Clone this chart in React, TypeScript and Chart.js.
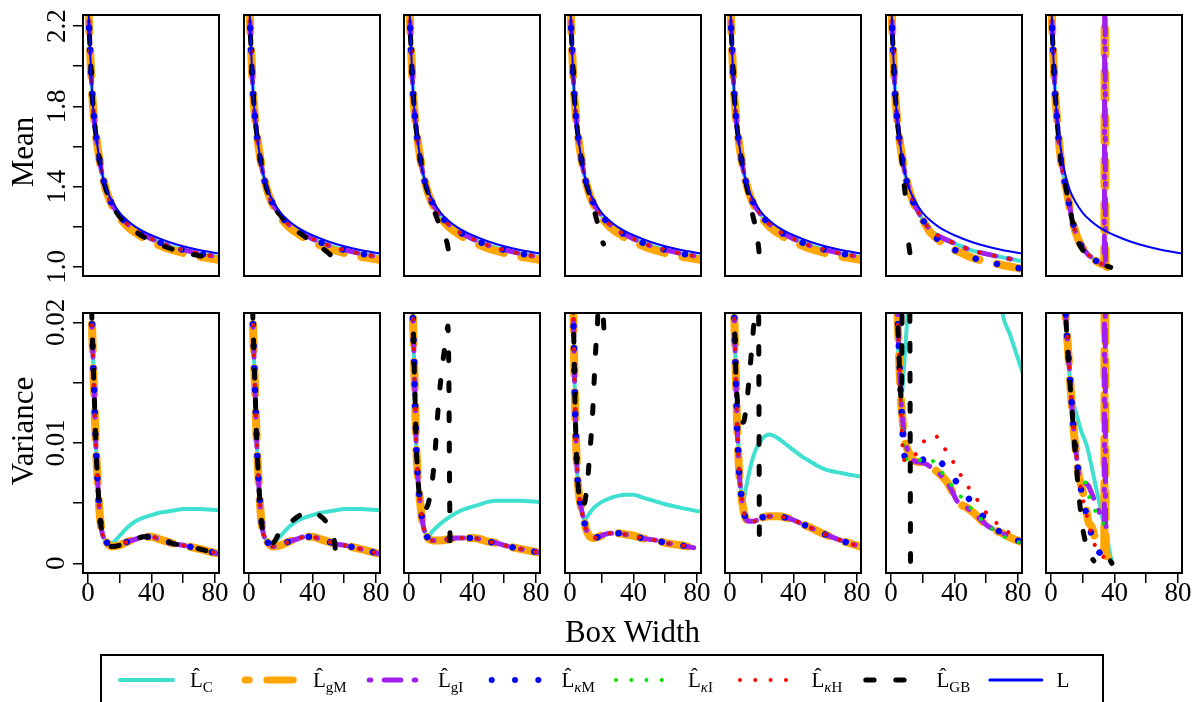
import React, { useEffect, useRef } from "react";
import { Chart, registerables } from "chart.js";

Chart.register(...registerables);

const SERIF = '"Liberation Serif", "Times New Roman", serif';
Chart.defaults.font.family = SERIF;

// ---------------- Axis ticks ----------------
const xTicks = [0, 20, 40, 60, 80];
const xTickLabels = [0, 40, 80];
const meanTicks = [1.0, 1.2, 1.4, 1.6, 1.8, 2.0, 2.2];
const meanTickLabels = [1.0, 1.4, 1.8, 2.2];
const varTicks = [0, 0.005, 0.01, 0.015, 0.02];
const varTickLabels = [0, 0.01, 0.02];

// ---------------- Mean of the estimates (top row) ----------------
const meanX = [0.3, 0.7, 1.5, 2.5, 3.5, 4.5, 6, 8, 10, 12, 15, 20, 25, 30, 35, 40, 50, 60, 70, 82];
const meanL = [2.30, 2.20, 2.05, 1.88, 1.77, 1.69, 1.60, 1.50, 1.43, 1.38, 1.33, 1.27, 1.23, 1.20, 1.177, 1.158, 1.127, 1.103, 1.085, 1.068];
const meanEst = [2.30, 2.20, 2.05, 1.88, 1.77, 1.69, 1.60, 1.50, 1.425, 1.37, 1.315, 1.255, 1.213, 1.183, 1.16, 1.14, 1.108, 1.085, 1.067, 1.05];
const meanGM = [2.30, 2.20, 2.05, 1.88, 1.77, 1.69, 1.60, 1.50, 1.425, 1.368, 1.31, 1.245, 1.20, 1.17, 1.145, 1.125, 1.092, 1.07, 1.052, 1.036];
const meanGB1 = [2.30, 2.20, 2.05, 1.88, 1.77, 1.69, 1.60, 1.50, 1.425, 1.37, 1.31, 1.25, 1.205, 1.175, 1.15, 1.13, 1.097, 1.074, 1.056, 1.04];

const gb2X = [0.3, 0.7, 1.5, 2.5, 3.5, 4.5, 6, 8, 10, 12, 15, 20, 25, 30, 35, 40, 45, 50, 54.5];
const meanGB2 = [2.30, 2.20, 2.05, 1.88, 1.77, 1.69, 1.60, 1.50, 1.425, 1.37, 1.31, 1.255, 1.21, 1.18, 1.152, 1.126, 1.10, 1.07, 1.035];

const gb3X = [0.3, 0.7, 1.5, 2.5, 3.5, 4.5, 6, 8, 10, 12, 15, 18, 21, 24, 25.5];
const meanGB3 = [2.30, 2.20, 2.05, 1.88, 1.77, 1.69, 1.60, 1.50, 1.425, 1.37, 1.30, 1.235, 1.175, 1.12, 1.05];

const gb4X = [0.3, 0.7, 1.5, 2.5, 3.5, 4.5, 6, 8, 10, 12, 14, 16, 18, 19.5, 20.8, 21.1];
const meanGB4 = [2.30, 2.20, 2.05, 1.88, 1.77, 1.69, 1.60, 1.50, 1.425, 1.37, 1.32, 1.26, 1.20, null, 1.12, 1.115];

const gb5X = [0.3, 0.7, 1.5, 2.5, 3.5, 4.5, 6, 8, 10, 12, 14, 16, 18, 18.6];
const meanGB5 = [2.30, 2.20, 2.05, 1.88, 1.77, 1.69, 1.60, 1.50, 1.42, 1.35, 1.27, 1.20, 1.10, 1.05];

const meanC6 = [2.30, 2.20, 2.05, 1.88, 1.77, 1.69, 1.60, 1.50, 1.425, 1.375, 1.31, 1.235, 1.183, 1.155, 1.135, 1.118, 1.085, 1.065, 1.048, 1.03];
const meanGM6 = [2.30, 2.20, 2.05, 1.88, 1.77, 1.69, 1.60, 1.50, 1.425, 1.37, 1.305, 1.235, 1.17, 1.135, 1.10, 1.085, 1.05, 1.027, 1.01, 0.992];
const gb6X = [0.3, 0.7, 1.5, 2.5, 3.5, 4.5, 6, 7, 8, 9, 10, 11.2, 12.3];
const meanGB6 = [2.30, 2.20, 2.05, 1.88, 1.77, 1.69, 1.60, 1.52, 1.43, 1.36, null, 1.11, 1.05];

const e7X = [0.3, 0.7, 1.5, 2.5, 3.5, 4.5, 6, 8, 10, 12, 14, 17, 20, 23, 26, 29, 32, 35, 37.7];
const meanE7 = [2.30, 2.20, 2.05, 1.88, 1.77, 1.67, 1.55, 1.45, 1.375, 1.29, 1.215, 1.14, 1.095, 1.065, 1.045, 1.027, 1.015, 1.005, 0.998];
const gm7X = [0.3, 0.7, 1.5, 2.5, 3.5, 4.5, 6, 8, 10, 12, 14, 17, 20, 23, 26, 29, 32, 33.6, 34.0, 34.4, 35.3];
const meanGM7 = [2.30, 2.20, 2.05, 1.88, 1.77, 1.67, 1.55, 1.45, 1.375, 1.29, 1.215, 1.14, 1.095, 1.065, 1.045, 1.027, 1.015, 1.012, 3.0, 1.012, 1.0];
const gb7X = [0.3, 0.7, 1.5, 2.5, 3.5, 4.5, 6, 8, 10, 12, 15, 17.4, 20, 22.7, 28, 35.3, 37.7];
const meanGB7 = [2.30, 2.20, 2.05, 1.88, 1.77, 1.67, 1.55, 1.45, 1.37, 1.285, 1.175, 1.12, 1.085, 1.06, null, 1.004, 0.998];

// ---------------- Variance of the estimates (bottom row) ----------------
const varX = [2, 2.5, 3, 3.5, 4, 4.5, 5, 5.5, 6, 7, 8, 9, 10, 12, 15, 20, 25, 30, 35, 40, 45, 50, 55, 60, 70, 82];
const varEst1 = [0.0235, 0.0200, 0.0178, 0.0157, 0.0138, 0.0115, 0.0097, 0.0083, 0.0070, 0.0048, 0.0033, 0.0025, 0.0021, 0.0017, 0.0014, 0.0015, 0.0018, 0.0020, 0.0022, 0.0022, 0.0020, 0.0018, 0.0016, 0.0015, 0.0012, 0.0008];
const varC1 = [0.0235, 0.0200, 0.0178, 0.0157, 0.0138, 0.0115, 0.0097, 0.0083, 0.0070, 0.0048, 0.0033, 0.0025, 0.0021, 0.0017, 0.0017, 0.0023, 0.0030, 0.0035, 0.0038, 0.0040, 0.0042, 0.0043, 0.0044, 0.0045, 0.0045, 0.0044];

const gbV2X = [2, 2.5, 3, 3.5, 4, 4.5, 5, 5.5, 6, 7, 8, 9, 10, 12, 15, 19, 23, 27, 31, 35, 39, 43, 47, 50, 52.5, 54, 55];
const varGB2 = [0.0235, 0.0200, 0.0178, 0.0157, 0.0138, 0.0115, 0.0097, 0.0083, 0.0070, 0.0048, 0.0033, 0.0025, 0.0021, 0.0017, 0.0017, 0.0025, 0.0031, 0.0035, 0.0039, 0.0042, 0.0043, 0.0041, 0.0037, 0.0032, 0.0027, 0.0017, 0.0004];

const varEst3 = [0.0240, 0.0205, 0.0180, 0.0152, 0.0127, 0.0100, 0.0085, 0.0073, 0.0064, 0.0051, 0.0039, 0.0031, 0.0026, 0.0021, 0.0019, 0.0019, 0.0020, 0.0021, 0.0021, 0.0021, 0.0020, 0.0018, 0.0017, 0.0015, 0.0012, 0.0009];
const varC3 = [0.0240, 0.0205, 0.0180, 0.0152, 0.0127, 0.0100, 0.0085, 0.0073, 0.0064, 0.0051, 0.0039, 0.0031, 0.0026, 0.0022, 0.0027, 0.0033, 0.0038, 0.0042, 0.0045, 0.0047, 0.0049, 0.0051, 0.0052, 0.0052, 0.0052, 0.0051];
const gbV3X = [2, 2.5, 3, 3.5, 4, 4.5, 5, 5.5, 6, 7, 8.5, 10, 12, 14, 16, 18, 20, 22, 23.5, 24.5, 25.1, 25.5, 25.9];
const varGB3 = [0.0240, 0.0205, 0.0180, 0.0152, 0.0127, 0.0100, 0.0085, 0.0073, 0.0064, 0.0051, 0.0046, 0.0045, 0.0049, 0.0062, 0.0085, 0.0122, 0.0152, 0.0174, 0.0187, 0.0197, 0.0160, 0.0080, 0.0011];

const v4X = [2, 2.5, 3, 3.5, 4, 4.5, 5, 5.5, 6, 7, 8, 9, 10, 12, 15, 20, 25, 30, 35, 40, 45, 50, 55, 60, 70, 78];
const varEst4 = [0.0215, 0.0180, 0.0145, 0.0115, 0.0094, 0.0076, 0.0066, 0.0059, 0.0054, 0.0046, 0.0040, 0.0035, 0.0029, 0.0023, 0.0021, 0.0023, 0.0025, 0.0025, 0.0024, 0.0023, 0.0021, 0.0020, 0.0019, 0.0017, 0.0015, 0.0013];
const varC4 = [0.0215, 0.0180, 0.0145, 0.0115, 0.0094, 0.0076, 0.0066, 0.0059, 0.0054, 0.0046, 0.0040, 0.0036, 0.0037, 0.0041, 0.0046, 0.0051, 0.0054, 0.0056, 0.0057, 0.0057, 0.0055, 0.0053, 0.0051, 0.0049, 0.0046, 0.0043];
const gbV4X = [2, 2.5, 3, 3.5, 4, 4.5, 5, 5.5, 6, 7, 8, 9.5, 11, 12.5, 14, 15, 16, 17, 17.4, 19, 21.2, 21.6];
const varGB4 = [0.0215, 0.0180, 0.0145, 0.0115, 0.0094, 0.0076, 0.0066, 0.0059, 0.0054, 0.0048, 0.0046, 0.0052, 0.0067, 0.0092, 0.0118, 0.0145, 0.0172, 0.0194, 0.0200, 0.0300, 0.0199, 0.0187];

const varEst5 = [0.0240, 0.0215, 0.0190, 0.0163, 0.0140, 0.0115, 0.0097, 0.0083, 0.0071, 0.0058, 0.0048, 0.0041, 0.0037, 0.0035, 0.0035, 0.0038, 0.0039, 0.0039, 0.0038, 0.0036, 0.0033, 0.0030, 0.0027, 0.0024, 0.0019, 0.0014];
const varC5 = [0.0240, 0.0215, 0.0190, 0.0165, 0.0145, 0.0125, 0.0108, 0.0093, 0.0080, 0.0060, 0.0051, 0.0055, 0.0062, 0.0075, 0.0090, 0.0103, 0.0107, 0.0104, 0.0099, 0.0094, 0.0089, 0.0085, 0.0081, 0.0078, 0.0075, 0.0072];
const gbV5X = [2, 2.5, 3, 3.5, 4, 4.5, 5, 6, 7, 8, 9, 10.5, 12, 13.5, 15, 16, 17, 18, 18.3, 18.5];
const varGB5 = [0.0240, 0.0215, 0.0190, 0.0165, 0.0148, 0.0138, 0.0130, 0.0122, 0.0118, 0.0117, 0.0119, 0.0133, 0.0152, 0.0175, 0.0198, 0.0215, 0.0260, 0.0220, 0.0120, 0.0021];

const v6X = [3, 3.5, 4.2, 5, 5.8, 7, 8.4, 9.5, 12, 14.7, 18, 21, 25, 30, 35, 37.7, 42, 45, 48, 52, 56, 60, 65, 70, 76, 82];
const varEst6 = [0.0245, 0.0225, 0.0203, 0.0175, 0.0147, 0.0124, 0.0105, 0.0098, 0.0090, 0.0085, 0.0084, 0.0083, 0.0080, 0.0075, 0.0068, 0.0062, 0.0051, 0.0048, 0.0046, 0.0042, 0.0037, 0.0032, 0.0028, 0.0025, 0.0021, 0.0018];
const kM6X = [3.5, 4.2, 5, 6, 7, 8, 10, 12, 15.7, 20, 27, 32, 36.7, 41, 45.5, 50, 54, 59, 64, 70, 75.6, 82];
const varKM6 = [0.0235, 0.0205, 0.0178, 0.0145, 0.0118, 0.0093, 0.0086, 0.0084, 0.0084, 0.0086, 0.0088, 0.0083, 0.0075, 0.0068, 0.0060, 0.0052, 0.0045, 0.0038, 0.0031, 0.0025, 0.0021, 0.0018];
const kH6X = [3.5, 4.2, 5, 6, 7.3, 8.8, 11, 14.7, 19.9, 24, 27.9, 31, 34, 39.3, 44.1, 48.9, 54.2, 59.4, 66.1, 73.9, 81.5];
const varKH6 = [0.0235, 0.0205, 0.0178, 0.0140, 0.0097, 0.0085, 0.0085, 0.0089, 0.0100, 0.0104, 0.0106, 0.0101, 0.0095, 0.0084, 0.0073, 0.0063, 0.0053, 0.0043, 0.0034, 0.0026, 0.0020];
const kI6X = [3.5, 4.2, 5, 6, 7, 8, 10, 12, 15, 19, 23.8, 27, 30.1, 35.8, 41.7, 47.6, 54.3, 61, 68.5, 76.9, 82];
const varKI6 = [0.0235, 0.0205, 0.0178, 0.0145, 0.0118, 0.0093, 0.0086, 0.0084, 0.0084, 0.0086, 0.0088, 0.0084, 0.0079, 0.0069, 0.0059, 0.0050, 0.0040, 0.0032, 0.0024, 0.0019, 0.0017];
const c6X = [2.5, 3.1, 4.5, 5.5, 6.5, 7.5, 9, 10.5, 13, 20, 40, 60, 66, 70.3, 75, 83];
const varC6 = [0.0220, 0.0208, 0.0178, 0.0155, 0.0136, 0.0150, 0.0178, 0.0208, 0.0260, 0.0400, 0.0500, 0.0340, 0.0260, 0.0208, 0.0190, 0.0158];
const gbV6X = [3, 3.5, 4.2, 5, 5.8, 6.6, 7.4, 11.6, 11.9, 12.3];
const varGB6 = [0.0245, 0.0225, 0.0203, 0.0175, 0.0147, 0.0135, 0.0300, 0.0300, 0.0200, 0.0001];

const v7X = [8.5, 9.4, 10.5, 11.5, 12.5, 13.5, 14.5, 16, 17.5, 20, 23.3, 26.8, 30, 34.8];
const varEst7 = [0.0225, 0.0203, 0.0182, 0.0163, 0.0143, 0.0125, 0.0108, 0.0090, 0.0073, 0.0054, 0.0036, 0.0018, 0.0010, 0.0003];
const kI7X = [8.5, 9.4, 10.5, 11.5, 12.5, 13.5, 14.5, 16, 17.5, 20.5, 23, 25.8, 30, 33, 36.3];
const varKI7 = [0.0225, 0.0203, 0.0182, 0.0163, 0.0143, 0.0125, 0.0108, 0.0090, 0.0073, 0.0072, 0.0060, 0.0049, 0.0039, 0.0033, 0.0029];
const gM7X = [8.5, 9.4, 10.5, 11.5, 12.5, 13.5, 14.5, 16, 17.5, 19, 21.6, 23.5, 25.8, 27.9, 30, 32, 33.6, 34.0, 34.4, 35.3];
const varGM7 = [0.0225, 0.0203, 0.0182, 0.0163, 0.0143, 0.0125, 0.0108, 0.0090, 0.0073, 0.0065, 0.0050, 0.0035, 0.0030, 0.0021, 0.0017, 0.0013, 0.0010, 0.0600, 0.0030, 0.0006];
const gI7X = [8.5, 9.4, 10.5, 11.5, 12.5, 13.5, 14.5, 16, 17.5, 20, 23.7, 26, 29, 32, 33.6, 34.0, 34.4, 35];
const varGI7 = [0.0225, 0.0203, 0.0182, 0.0163, 0.0143, 0.0125, 0.0108, 0.0090, 0.0073, 0.0068, 0.0064, 0.0057, 0.0047, 0.0038, 0.0034, 0.0600, 0.0034, 0.0030];
const c7X = [8.5, 9, 10.5, 12.2, 14, 16.4, 19, 22.7, 25, 27.9, 30.5, 33.1, 36, 38.4];
const varC7 = [0.0225, 0.0208, 0.0178, 0.0149, 0.0134, 0.0122, 0.0110, 0.0097, 0.0084, 0.0066, 0.0050, 0.0033, 0.0016, 0.0001];
const gbV7X = [8.5, 9.5, 10.5, 11.5, 12.5, 13.5, 14.5, 15.5, 17, 18.5, 19.5, 21, 23, 25, 27, 32, 37.5, 38.4];
const varGB7 = [0.0225, 0.0200, 0.0178, 0.0158, 0.0140, 0.0122, 0.0104, 0.0088, 0.0065, 0.0045, 0.0033, 0.0022, 0.0012, 0.0006, 0.0002, null, 0.0002, 0.0000];

// ---------------- Series styling ----------------
type Key = "C" | "gM" | "gI" | "kM" | "kI" | "kH" | "GB" | "L";
type Curve = [number[], (number | null)[]];

const STYLES: Record<Key, { color: string; width: number; dash: number[] }> = {
  C: { color: "#40E0D0", width: 4, dash: [] },
  gM: { color: "#FFA500", width: 8, dash: [26, 18] },
  gI: { color: "#A020F0", width: 5, dash: [2, 13, 17, 13] },
  kM: { color: "#0000FF", width: 6.5, dash: [0.01, 22] },
  kI: { color: "#00E600", width: 4, dash: [0.01, 15] },
  kH: { color: "#FF0000", width: 4, dash: [0.01, 15] },
  GB: { color: "#000000", width: 5, dash: [8, 22] },
  L: { color: "#0000FF", width: 2, dash: [] },
};

// first entry is painted last (on top)
const DRAW_ORDER: Key[] = ["L", "GB", "kH", "kI", "kM", "gI", "gM", "C"];

function meanSet(c: Curve, gm: Curve, gi: Curve, km: Curve, ki: Curve, kh: Curve, gb: Curve): Record<Key, Curve> {
  return { L: [meanX, meanL], C: c, gM: gm, gI: gi, kM: km, kI: ki, kH: kh, GB: gb };
}

const meanPanels: Record<string, Curve>[] = [
  meanSet([meanX, meanEst], [meanX, meanGM], [meanX, meanEst], [meanX, meanEst], [meanX, meanEst], [meanX, meanEst], [meanX, meanGB1]),
  meanSet([meanX, meanEst], [meanX, meanGM], [meanX, meanEst], [meanX, meanEst], [meanX, meanEst], [meanX, meanEst], [gb2X, meanGB2]),
  meanSet([meanX, meanEst], [meanX, meanGM], [meanX, meanEst], [meanX, meanEst], [meanX, meanEst], [meanX, meanEst], [gb3X, meanGB3]),
  meanSet([meanX, meanEst], [meanX, meanGM], [meanX, meanEst], [meanX, meanEst], [meanX, meanEst], [meanX, meanEst], [gb4X, meanGB4]),
  meanSet([meanX, meanEst], [meanX, meanGM], [meanX, meanEst], [meanX, meanEst], [meanX, meanEst], [meanX, meanEst], [gb5X, meanGB5]),
  meanSet([meanX, meanC6], [meanX, meanGM6], [meanX, meanC6], [meanX, meanGM6], [meanX, meanC6], [meanX, meanC6], [gb6X, meanGB6]),
  meanSet([e7X, meanE7], [gm7X, meanGM7], [gm7X, meanGM7], [e7X, meanE7], [e7X, meanE7], [e7X, meanE7], [gb7X, meanGB7]),
];

const varPanels: Record<string, Curve>[] = [
  { C: [varX, varC1], gM: [varX, varEst1], gI: [varX, varEst1], kM: [varX, varEst1], kI: [varX, varEst1], kH: [varX, varEst1], GB: [varX, varEst1] },
  { C: [varX, varC1], gM: [varX, varEst1], gI: [varX, varEst1], kM: [varX, varEst1], kI: [varX, varEst1], kH: [varX, varEst1], GB: [gbV2X, varGB2] },
  { C: [varX, varC3], gM: [varX, varEst3], gI: [varX, varEst3], kM: [varX, varEst3], kI: [varX, varEst3], kH: [varX, varEst3], GB: [gbV3X, varGB3] },
  { C: [varX, varC4], gM: [v4X, varEst4], gI: [v4X, varEst4], kM: [v4X, varEst4], kI: [v4X, varEst4], kH: [v4X, varEst4], GB: [gbV4X, varGB4] },
  { C: [varX, varC5], gM: [varX, varEst5], gI: [varX, varEst5], kM: [varX, varEst5], kI: [varX, varEst5], kH: [varX, varEst5], GB: [gbV5X, varGB5] },
  { C: [c6X, varC6], gM: [v6X, varEst6], gI: [v6X, varEst6], kM: [kM6X, varKM6], kI: [kI6X, varKI6], kH: [kH6X, varKH6], GB: [gbV6X, varGB6] },
  { C: [c7X, varC7], gM: [gM7X, varGM7], gI: [gI7X, varGI7], kM: [v7X, varEst7], kI: [kI7X, varKI7], kH: [v7X, varEst7], GB: [gbV7X, varGB7] },
];

// ---------------- Panel geometry ----------------
const BOX_LEFT = [83, 244, 404, 565, 725, 886, 1046];
const BOX_W = 136;
const ROWS = [
  { top: 15, h: 261, min: 0.955, max: 2.255, ticks: meanTicks, labels: meanTickLabels, labelPad: -1.4 },
  { top: 313, h: 260, min: -0.0008, max: 0.02077, ticks: varTicks, labels: varTickLabels, labelPad: -8 },
];
const X_MIN = -3.15;
const X_MAX = 82.6;

const panelBox = {
  id: "panelBox",
  afterDatasetsDraw(chart: any) {
    const { ctx, chartArea } = chart;
    ctx.save();
    ctx.strokeStyle = "#000";
    ctx.lineWidth = 2;
    ctx.strokeRect(chartArea.left, chartArea.top, chartArea.right - chartArea.left, chartArea.bottom - chartArea.top);
    ctx.restore();
  },
};

const has = (list: number[], v: number) => list.some((t) => Math.abs(t - v) < 1e-9);

function Panel({ row, col }: { row: number; col: number }) {
  const ref = useRef<HTMLCanvasElement>(null);
  const isBottom = row === 1;
  const isFirst = col === 0;
  const r = ROWS[row];
  const padL = isFirst ? 3 : 20;
  const padR = 20;
  const padT = 22;
  const padB = 22;
  const yW = isFirst ? 80 : 0;
  const xH = isBottom ? 50 : 0;
  const left = BOX_LEFT[col] - padL - yW;
  const top = r.top - padT;
  const width = padL + yW + BOX_W + padR;
  const height = padT + r.h + xH + padB;

  useEffect(() => {
    const curves = isBottom ? varPanels[col] : meanPanels[col];
    const datasets = DRAW_ORDER.filter((k) => curves[k]).map((k) => {
      const [xs, ys] = curves[k];
      const s = STYLES[k];
      return {
        label: k,
        data: xs.map((x, i) => ({ x, y: ys[i] })),
        borderColor: s.color,
        borderWidth: s.width,
        borderDash: s.dash,
        borderCapStyle: "round",
        borderJoinStyle: "round",
        pointRadius: 0,
        pointHoverRadius: 0,
        fill: false,
        cubicInterpolationMode: "monotone",
        capBezierPoints: false,
        spanGaps: false,
        clip: 0,
      };
    });
    const tickFont = { family: SERIF, size: 27 };
    const chart = new Chart(ref.current as HTMLCanvasElement, {
      type: "line",
      data: { datasets } as any,
      options: {
        animation: false,
        responsive: false,
        maintainAspectRatio: false,
        devicePixelRatio: 1,
        events: [],
        layout: { padding: { left: padL, right: padR, top: padT, bottom: padB } },
        plugins: { legend: { display: false }, tooltip: { enabled: false } },
        scales: {
          x: {
            type: "linear",
            min: X_MIN,
            max: X_MAX,
            display: isBottom,
            afterBuildTicks: (s: any) => {
              s.ticks = xTicks.map((v) => ({ value: v }));
            },
            afterFit: (s: any) => {
              s.height = isBottom ? xH : 0;
            },
            border: { display: false },
            grid: { drawOnChartArea: false, drawTicks: true, tickLength: 10, color: "#000", lineWidth: 1.5 },
            ticks: {
              autoSkip: false,
              minRotation: 0,
              maxRotation: 0,
              padding: -5,
              color: "#000",
              font: tickFont,
              callback: (v: any) => (has(xTickLabels, Number(v)) ? String(v) : ""),
            },
          },
          y: {
            type: "linear",
            position: "left",
            min: r.min,
            max: r.max,
            display: isFirst,
            afterBuildTicks: (s: any) => {
              s.ticks = r.ticks.map((v) => ({ value: v }));
            },
            afterFit: (s: any) => {
              s.width = isFirst ? yW : 0;
            },
            border: { display: false },
            grid: { drawOnChartArea: false, drawTicks: true, tickLength: 10, color: "#000", lineWidth: 1.5 },
            ticks: {
              autoSkip: false,
              minRotation: 90,
              maxRotation: 90,
              crossAlign: "center",
              padding: r.labelPad,
              color: "#000",
              font: tickFont,
              callback: (v: any) => {
                const n = Number(v);
                if (!has(r.labels, n)) return "";
                if (isBottom) return n === 0 ? "0" : n.toFixed(2);
                return n.toFixed(1);
              },
            },
          },
        },
      } as any,
      plugins: [panelBox],
    });
    return () => chart.destroy();
  }, [row, col]);

  return (
    <canvas
      ref={ref}
      width={width}
      height={height}
      style={{ position: "absolute", left, top, width, height }}
    />
  );
}

// ---------------- Legend ----------------
const legendEntries: { key: Key; sub: React.ReactNode; x1: number; x2: number; w: number; dash?: string; offset?: number; textX: number }[] = [
  { key: "C", sub: "C", x1: 120, x2: 173, w: 4, textX: 190 },
  { key: "gM", sub: "gM", x1: 245.2, x2: 293.2, w: 7, dash: "26.4 17.6", offset: 22.4, textX: 313 },
  { key: "gI", sub: "gI", x1: 369.2, x2: 415.9, w: 5, dash: "1.6 13.4 16.6 13.4", textX: 438 },
  { key: "kM", sub: <><i>κ</i>M</>, x1: 491.7, x2: 538.5, w: 6, dash: "0.01 23.3", textX: 561.5 },
  { key: "kI", sub: <><i>κ</i>I</>, x1: 616, x2: 661.9, w: 4, dash: "0.01 15.2", textX: 688 },
  { key: "kH", sub: <><i>κ</i>H</>, x1: 740, x2: 786.2, w: 4, dash: "0.01 15.3", textX: 811.5 },
  { key: "GB", sub: "GB", x1: 865.8, x2: 904.4, w: 5, dash: "8.3 21.7", textX: 936.5 },
  { key: "L", sub: null, x1: 989.8, x2: 1041.8, w: 3, textX: 1056.5 },
];

export default function App() {
  const panels: { row: number; col: number }[] = [];
  for (let row = 0; row < 2; row++) for (let col = 0; col < 7; col++) panels.push({ row, col });

  const rotated = (text: string, cx: number, cy: number) => (
    <div
      style={{
        position: "absolute",
        left: cx,
        top: cy,
        transform: "translate(-50%, -50%) rotate(-90deg)",
        fontSize: 31,
        lineHeight: 1,
        whiteSpace: "nowrap",
      }}
    >
      {text}
    </div>
  );

  return (
    <div
      style={{
        position: "absolute",
        left: 0,
        top: 0,
        width: 1199,
        height: 702,
        overflow: "hidden",
        background: "#fff",
        fontFamily: SERIF,
        color: "#000",
      }}
    >
      {panels.map((p) => (
        <Panel key={`${p.row}-${p.col}`} row={p.row} col={p.col} />
      ))}

      {rotated("Mean", 21.5, 152)}
      {rotated("Variance", 21.5, 431)}
      <div
        style={{
          position: "absolute",
          left: 632.5,
          top: 630.5,
          transform: "translate(-50%, -50%)",
          fontSize: 31,
          lineHeight: 1,
          whiteSpace: "nowrap",
        }}
      >
        Box Width
      </div>

      <div
        style={{
          position: "absolute",
          left: 100,
          top: 654,
          width: 1004,
          height: 80,
          border: "2px solid #000",
          boxSizing: "border-box",
        }}
      />
      <svg width={1199} height={702} style={{ position: "absolute", left: 0, top: 0, pointerEvents: "none" }}>
        {legendEntries.map((e) => (
          <line
            key={e.key}
            x1={e.x1}
            x2={e.x2}
            y1={680}
            y2={680}
            stroke={STYLES[e.key].color}
            strokeWidth={e.w}
            strokeLinecap="round"
            strokeDasharray={e.dash}
            strokeDashoffset={e.offset ?? 0}
          />
        ))}
      </svg>
      {legendEntries.map((e) => (
        <div
          key={`t-${e.key}`}
          style={{ position: "absolute", left: e.textX, top: 670, fontSize: 21, lineHeight: "21px", whiteSpace: "nowrap" }}
        >
          {e.sub === null ? (
            "L"
          ) : (
            <>
              {"L\u0302"}
              <span style={{ fontSize: 15, position: "relative", top: 5 }}>{e.sub}</span>
            </>
          )}
        </div>
      ))}
    </div>
  );
}
